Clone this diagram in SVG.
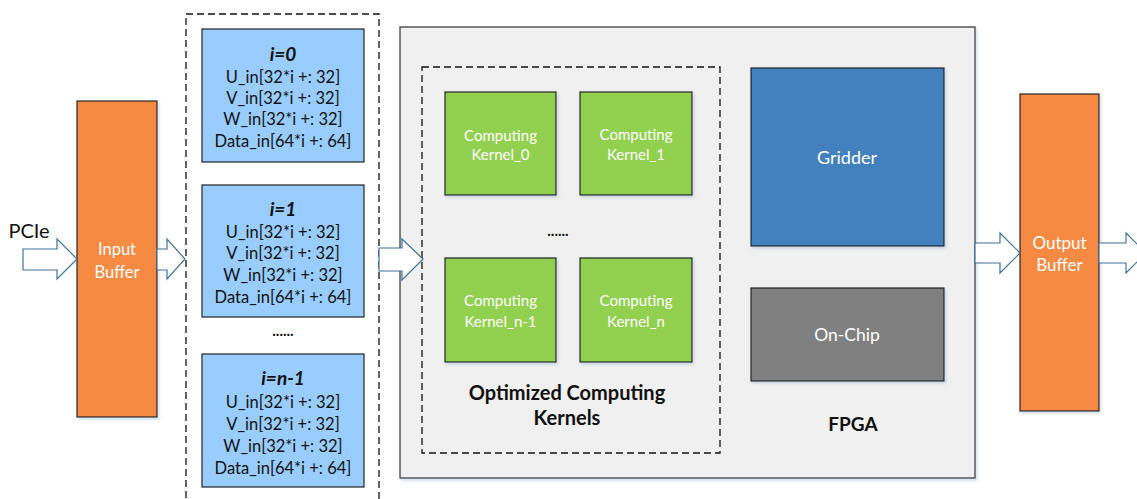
<svg xmlns="http://www.w3.org/2000/svg" width="1137" height="499" viewBox="0 0 1137 499">
  <defs>
    <filter id="shadow" x="-10%" y="-10%" width="130%" height="130%">
      <feDropShadow dx="1.5" dy="2" stdDeviation="1.5" flood-color="#7f9fc8" flood-opacity="0.35"/>
    </filter>
    <style>
      .buf { fill: #f68a42; stroke: #222; stroke-width: 1.2; }
      .slot { fill: #99ccff; stroke: #222; stroke-width: 1.2; }
      .kern { fill: #92d050; stroke: #222; stroke-width: 1.2; }
      .grid { fill: #4281bd; stroke: #222; stroke-width: 1.2; }
      .chip { fill: #808080; stroke: #222; stroke-width: 1.2; }
      .fpga { fill: #f0f0f0; stroke: #404040; stroke-width: 1.3; }
      .dash { fill: none; stroke: #111; stroke-width: 1.3; stroke-dasharray: 7 4; }
      .arrow { fill: #ffffff; stroke: #41719c; stroke-width: 1.2; stroke-linejoin: miter; }
      text { font-family: Lato, "Open Sans", "Liberation Sans", sans-serif; text-anchor: middle; dominant-baseline: central; }
      .wt { fill: #ffffff; font-size: 15px; }
      .wb { fill: #ffffff; font-size: 16.5px; }
      .wl { fill: #ffffff; font-size: 18px; }
      .bk { fill: #111; font-size: 16.5px; }
      .ttl { fill: #111; font-size: 19px; font-weight: bold; font-style: italic; }
      .bold { fill: #111; font-size: 20px; font-weight: bold; }
      .dots { fill: #111; font-size: 15px; font-weight: bold; }
    </style>
  </defs>

  <!-- FPGA container -->
  <g id="fpga">
    <rect class="fpga" x="400" y="27" width="575" height="451" filter="url(#shadow)"/>
    <text class="bold" x="853" y="423" style="font-size:19px">FPGA</text>
  </g>

  <!-- dashed group holding the optimized kernels -->
  <g id="kernels-group">
    <rect class="dash" x="422" y="67" width="298" height="386"/>
    <text class="bold" x="567" y="392">Optimized Computing</text>
    <text class="bold" x="567" y="417">Kernels</text>
    <text class="dots" x="558" y="230">......</text>
  </g>

  <g id="kernel-0">
    <rect class="kern" x="445" y="92" width="111" height="103" filter="url(#shadow)"/>
    <text class="wt" x="500.5" y="135">Computing</text>
    <text class="wt" x="500.5" y="154">Kernel_0</text>
  </g>
  <g id="kernel-1">
    <rect class="kern" x="580" y="92" width="112" height="103" filter="url(#shadow)"/>
    <text class="wt" x="636" y="134">Computing</text>
    <text class="wt" x="636" y="154">Kernel_1</text>
  </g>
  <g id="kernel-n-1">
    <rect class="kern" x="445" y="258" width="111" height="104" filter="url(#shadow)"/>
    <text class="wt" x="500.5" y="300">Computing</text>
    <text class="wt" x="500.5" y="321">Kernel_n-1</text>
  </g>
  <g id="kernel-n">
    <rect class="kern" x="580" y="258" width="112" height="104" filter="url(#shadow)"/>
    <text class="wt" x="636" y="300">Computing</text>
    <text class="wt" x="636" y="321">Kernel_n</text>
  </g>

  <g id="gridder">
    <rect class="grid" x="751" y="68" width="193" height="178" filter="url(#shadow)"/>
    <text class="wl" x="847" y="157">Gridder</text>
  </g>
  <g id="on-chip">
    <rect class="chip" x="751" y="288" width="193" height="93" filter="url(#shadow)"/>
    <text class="wl" x="847" y="334" style="font-size:17.5px">On-Chip</text>
  </g>

  <!-- buffers -->
  <g id="input-buffer">
    <rect class="buf" x="77" y="101" width="80" height="316" filter="url(#shadow)"/>
    <text class="wb" x="117" y="249">Input</text>
    <text class="wb" x="117" y="272">Buffer</text>
  </g>
  <g id="output-buffer">
    <rect class="buf" x="1020" y="94" width="79" height="317" filter="url(#shadow)"/>
    <text class="wb" x="1059.5" y="242" style="font-size:17px">Output</text>
    <text class="wb" x="1059.5" y="264" style="font-size:17px">Buffer</text>
  </g>

  <!-- per-slot input streams -->
  <g id="slots">
    <rect class="dash" x="186" y="14" width="193" height="500"/>
    <text class="dots" x="283" y="330">......</text>
  </g>
  <g id="slot-0">
    <rect class="slot" x="202" y="29" width="162" height="133"/>
    <text class="ttl" x="283" y="53">i=0</text>
    <text class="bk" x="283" y="77">U_in[32*i +: 32]</text>
    <text class="bk" x="283" y="98">V_in[32*i +: 32]</text>
    <text class="bk" x="283" y="119">W_in[32*i +: 32]</text>
    <text class="bk" x="283" y="141">Data_in[64*i +: 64]</text>
  </g>
  <g id="slot-1">
    <rect class="slot" x="202" y="185" width="162" height="132"/>
    <text class="ttl" x="283" y="208">i=1</text>
    <text class="bk" x="283" y="232">U_in[32*i +: 32]</text>
    <text class="bk" x="283" y="253">V_in[32*i +: 32]</text>
    <text class="bk" x="283" y="275">W_in[32*i +: 32]</text>
    <text class="bk" x="283" y="297">Data_in[64*i +: 64]</text>
  </g>
  <g id="slot-n-1">
    <rect class="slot" x="202" y="354" width="162" height="133"/>
    <text class="ttl" x="283" y="377">i=n-1</text>
    <text class="bk" x="283" y="402">U_in[32*i +: 32]</text>
    <text class="bk" x="283" y="424">V_in[32*i +: 32]</text>
    <text class="bk" x="283" y="446">W_in[32*i +: 32]</text>
    <text class="bk" x="283" y="468">Data_in[64*i +: 64]</text>
  </g>

  <!-- block arrows between stages -->
  <g id="connectors">
    <path class="arrow" d="M23,249 H57 V239 L77,259 L57,279 V270 H23 Z"/>
    <path class="arrow" d="M157,249 H167 V239 L185,259 L167,279 V270 H157 Z"/>
    <path class="arrow" d="M379,248 H402 V239 L423,259 L402,280 V271 H379 Z"/>
    <path class="arrow" d="M975,243 H1000 V233 L1020,253 L1000,273 V263 H975 Z"/>
    <path class="arrow" d="M1099,243 H1126 V233 L1146,253 L1126,273 V263 H1099 Z"/>
  </g>
  <text x="29" y="230" fill="#111" style="font-size:20px">PCIe</text>
</svg>
